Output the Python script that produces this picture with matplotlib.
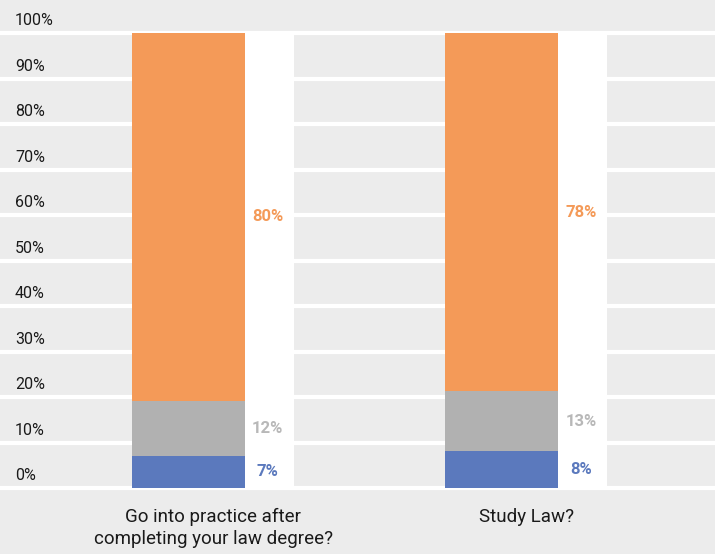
import numpy as np
import matplotlib.pyplot as plt
from matplotlib.transforms import blended_transform_factory

plt.rcParams['font.family'] = ['Roboto', 'DejaVu Sans']

# survey answers, share of respondents (%)
questions = ["Go into practice after\ncompleting your law degree?", "Study Law?"]
series_names = ["Yes", "Unsure", "No"]
no_vals = np.array([7, 8])
unsure_vals = np.array([12, 13])
yes_vals = np.array([80, 78])
y_ticks = [0, 10, 20, 30, 40, 50, 60, 70, 80, 90, 100]

colors = {"No": "#5B79BD", "Unsure": "#B1B1B1", "Yes": "#F49A58"}
label_colors = {"No": "#5B79BD", "Unsure": "#B8B8B8", "Yes": "#F49A58"}
bg = "#ECECEC"

# 100% stacked: scale each column to its total
totals = no_vals + unsure_vals + yes_vals
segments = [("No", no_vals), ("Unsure", unsure_vals), ("Yes", yes_vals)]
shares = {name: vals / totals * 100 for name, vals in segments}

fig = plt.figure(figsize=(7.15, 5.54), dpi=100, facecolor=bg)
ax = fig.add_axes([15 / 715, 66 / 554, 700 / 715, 455 / 554])
ax.set_facecolor(bg)

x = np.arange(len(questions))
bar_w = 0.361
strip_w = 0.160
bar_x = x - 0.2604 + bar_w / 2
strip_x = x + 0.0966 + strip_w / 2

# gridlines
ax.hlines(y_ticks, -1, 3, colors="white", linewidth=3, zorder=0, clip_on=False)

# white column that holds the value labels
ax.bar(strip_x, 100, width=strip_w, color="white", zorder=2)

bottom = np.zeros(len(questions))
for name, _ in segments:
    h = shares[name]
    ax.bar(bar_x, h, width=bar_w, bottom=bottom, color=colors[name], zorder=3)
    for i in range(len(questions)):
        raw = dict(segments)[name][i]
        ax.text(strip_x[i] - 0.003, bottom[i] + h[i] / 2, f"{raw}%", ha="center", va="center",
                fontsize=12, fontweight="bold", color=label_colors[name], zorder=4)
    bottom += h

ax.set_xlim(-0.634, 1.602)
ax.set_ylim(0, 100)
ax.axis("off")

# y tick labels sit just above each gridline
trans = blended_transform_factory(ax.transAxes, ax.transData)
for t in y_ticks:
    ax.text(0, t + 1.0, f"{t}%", transform=trans, ha="left", va="bottom",
            fontsize=11.5, color="#1a1a1a")

for i, q in enumerate(questions):
    ax.text(x[i], -4.3, q, ha="center", va="top", fontsize=13.5, color="#1a1a1a",
            linespacing=1.3)

fig.savefig("out.png", dpi=100, facecolor=bg)
